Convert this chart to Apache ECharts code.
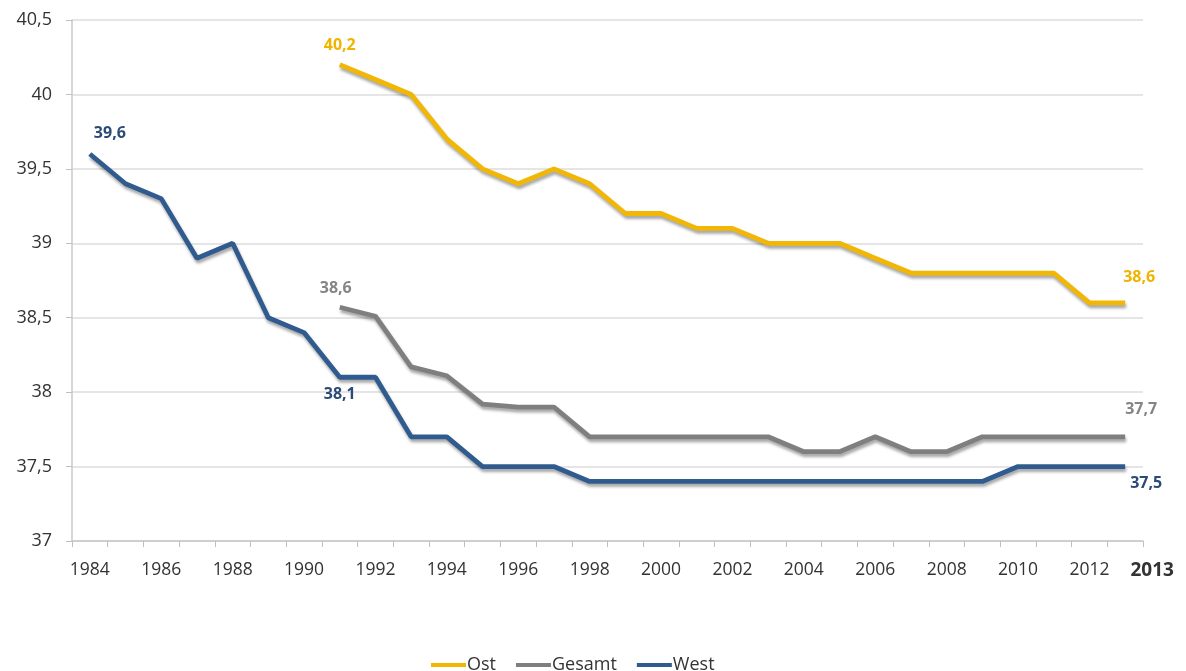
<!DOCTYPE html>
<html>
<head>
<meta charset="utf-8">
<title>Wochenarbeitszeit</title>
<script src="https://cdn.jsdelivr.net/npm/echarts@6/dist/echarts.min.js"></script>
<style>
  html, body { margin: 0; padding: 0; background: #fff; }
  #chart { width: 1186px; height: 671px; }
</style>
</head>
<body>
<div id="chart"></div>
<script>
// years 1984 .. 2013
const years = ['1984','1985','1986','1987','1988','1989','1990','1991','1992','1993',
  '1994','1995','1996','1997','1998','1999','2000','2001','2002','2003',
  '2004','2005','2006','2007','2008','2009','2010','2011','2012','2013']

const ost = [null,null,null,null,null,null,null,40.2,40.1,40.0,
  39.7,39.5,39.4,39.5,39.4,39.2,39.2,39.1,39.1,39.0,
  39.0,39.0,38.9,38.8,38.8,38.8,38.8,38.8,38.6,38.6]

const gesamt = [null,null,null,null,null,null,null,38.57,38.51,38.17,
  38.11,37.92,37.9,37.9,37.7,37.7,37.7,37.7,37.7,37.7,
  37.6,37.6,37.7,37.6,37.6,37.7,37.7,37.7,37.7,37.7]

const west = [39.6,39.4,39.3,38.9,39.0,38.5,38.4,38.1,38.1,37.7,
  37.7,37.5,37.5,37.5,37.4,37.4,37.4,37.4,37.4,37.4,
  37.4,37.4,37.4,37.4,37.4,37.4,37.5,37.5,37.5,37.5]

const yTicks = [37, 37.5, 38, 38.5, 39, 39.5, 40, 40.5]

const fmt = v => String(Number(v).toFixed(1)).replace('.', ',')
const FONT = 'Open Sans'

// which points get a value label, and where it goes
function withLabels(values, color, marks) {
  return values.map((v, i) => {
    if (v === null) return '-'
    const m = marks[i]
    if (!m) return v
    return {
      value: v,
      label: {
        show: true,
        position: m.pos,
        offset: m.offset,
        formatter: p => fmt(p.value),
        color: color,
        fontFamily: FONT,
        fontWeight: 'bold',
        fontSize: 16
      }
    }
  })
}

function lineSeries(name, values, color, labelColor, marks) {
  return {
    name: name,
    type: 'line',
    data: withLabels(values, labelColor, marks),
    symbol: 'circle',
    symbolSize: 0,
    showSymbol: true,
    connectNulls: false,
    z: 3,
    lineStyle: {
      color: color,
      width: 4.8,
      shadowColor: 'rgba(0,0,0,0.35)',
      shadowBlur: 3,
      shadowOffsetX: 1,
      shadowOffsetY: 3
    },
    itemStyle: { color: color },
    emphasis: { disabled: true }
  }
}

const chart = echarts.init(document.getElementById('chart'))

chart.setOption({
  animation: false,
  backgroundColor: '#fff',
  grid: { left: 72, right: 43, top: 20, bottom: 130 },
  legend: {
    top: 651,
    left: 426,
    itemWidth: 35,
    itemHeight: 4,
    itemGap: 20,
    icon: 'rect',
    textStyle: { fontFamily: FONT, fontSize: 18, color: '#333', padding: [0, 0, 0, -4] },
    data: ['Ost', 'Gesamt', 'West']
  },
  xAxis: {
    type: 'category',
    data: years,
    boundaryGap: true,
    axisLine: { lineStyle: { color: '#c8c8c8', width: 1.5 } },
    axisTick: { show: true, interval: 0, length: 6, lineStyle: { color: '#c0c0c0' } },
    splitLine: { show: false },
    axisLabel: {
      interval: (i, v) => Number(v) % 2 === 0 || v === '2013',
      margin: 20,
      fontFamily: FONT,
      fontSize: 17.5,
      color: '#333',
      formatter: v => v === '2013' ? '{b|2013}' : v,
      rich: {
        b: { fontFamily: FONT, fontWeight: 'bold', fontSize: 19, color: '#333', padding: [0, 0, 0, 54] }
      }
    }
  },
  yAxis: {
    type: 'value',
    min: yTicks[0],
    max: yTicks[yTicks.length - 1],
    interval: 0.5,
    axisLine: { show: true, lineStyle: { color: '#c8c8c8', width: 1.5 } },
    axisTick: { show: true, length: 6, lineStyle: { color: '#c0c0c0' } },
    splitLine: { lineStyle: { color: '#dcdcdc', width: 1.5 } },
    axisLabel: {
      margin: 20,
      fontFamily: FONT,
      fontSize: 18,
      color: '#333',
      formatter: v => yTicks.includes(v) ? String(v).replace('.', ',') : ''
    }
  },
  series: [
    lineSeries('Ost', ost, '#f2b705', '#f0b400', {
      7: { pos: 'top', offset: [0, -6] },
      29: { pos: 'top', offset: [14, -12] }
    }),
    lineSeries('Gesamt', gesamt, '#7f7f7f', '#858585', {
      7: { pos: 'top', offset: [-4, -6] },
      29: { pos: 'top', offset: [16, -14] }
    }),
    lineSeries('West', west, '#2f5b8e', '#2a4a78', {
      0: { pos: 'top', offset: [20, -8] },
      7: { pos: 'bottom', offset: [0, 4] },
      29: { pos: 'bottom', offset: [21, 4] }
    })
  ]
})
</script>
</body>
</html>
